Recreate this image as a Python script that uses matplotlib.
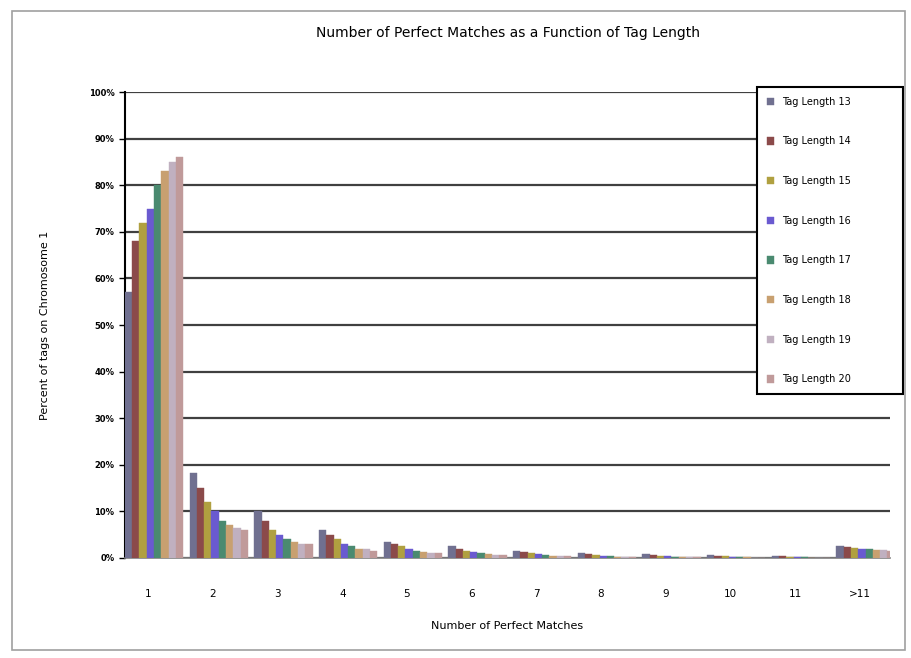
import matplotlib
matplotlib.use("Agg")
import matplotlib.pyplot as plt
import numpy as np
from matplotlib.patches import Rectangle

# categories along x
categories = ["1", "2", "3", "4", "5", "6", "7", "8", "9", "10", "11", ">11"]

# percent of tags per number of perfect matches, one list per tag length
tag13 = [57.0, 18.2, 10.0, 6.0, 3.5, 2.5, 1.5, 1.0, 0.8, 0.6, 0.5, 2.5]
tag14 = [68.0, 15.0, 8.0, 5.0, 3.0, 2.0, 1.2, 0.8, 0.6, 0.5, 0.4, 2.3]
tag15 = [72.0, 12.0, 6.0, 4.0, 2.5, 1.5, 1.0, 0.6, 0.5, 0.4, 0.3, 2.2]
tag16 = [75.0, 10.0, 5.0, 3.0, 2.0, 1.2, 0.8, 0.5, 0.4, 0.3, 0.2, 2.0]
tag17 = [80.0, 8.0, 4.0, 2.5, 1.5, 1.0, 0.6, 0.4, 0.3, 0.2, 0.2, 1.9]
tag18 = [83.0, 7.0, 3.5, 2.0, 1.2, 0.8, 0.5, 0.3, 0.2, 0.2, 0.1, 1.8]
tag19 = [85.0, 6.5, 3.0, 2.0, 1.0, 0.7, 0.4, 0.3, 0.2, 0.1, 0.1, 1.7]
tag20 = [86.0, 6.0, 3.0, 1.5, 1.0, 0.6, 0.4, 0.2, 0.2, 0.1, 0.1, 1.6]

series = [tag13, tag14, tag15, tag16, tag17, tag18, tag19, tag20]
labels = ["Tag Length 13", "Tag Length 14", "Tag Length 15", "Tag Length 16",
          "Tag Length 17", "Tag Length 18", "Tag Length 19", "Tag Length 20"]
colors = ["#707090", "#8b4a4a", "#b0a040", "#6a5ad0",
          "#4a8a70", "#c8a070", "#c0b0c0", "#c09a9a"]

fig = plt.figure(figsize=(9.12, 6.58), dpi=100)
ax = fig.add_axes([0.137, 0.152, 0.839, 0.708])

# outer chart border
fig.patches.append(Rectangle((0.013, 0.012), 0.979, 0.972, transform=fig.transFigure,
                             fill=False, edgecolor="#a0a0a0", linewidth=1.2))

x = np.arange(len(categories))
n = len(series)
group = 0.9
w = group / n
for i, (vals, lab, c) in enumerate(zip(series, labels, colors)):
    ax.bar(x - group / 2 + w * (i + 0.5) + 0.09, vals, width=w, color=c,
           edgecolor=c, linewidth=0.3, label=lab, zorder=3)

ax.set_ylim(0, 100)
ax.set_xlim(-0.36, 11.47)
ax.set_yticks(np.arange(0, 101, 10))
ax.set_yticklabels([f"{v}%" for v in range(0, 101, 10)], fontsize=6, fontweight="bold")
ax.set_xticks(x)
ax.set_xticklabels(categories, fontsize=7.5)
ax.tick_params(axis="x", length=0, pad=22)
ax.tick_params(axis="y", length=4, width=1)
ax.yaxis.grid(True, color="#404040", linewidth=1.6, zorder=0)
ax.set_axisbelow(True)
for s in ["top", "right"]:
    ax.spines[s].set_visible(False)
ax.spines["left"].set_linewidth(1.5)
ax.spines["bottom"].set_linewidth(1.2)
ax.spines["bottom"].set_color("#808080")

ax.set_title("Number of Perfect Matches as a Function of Tag Length", fontsize=10, pad=40)
ax.set_xlabel("Number of Perfect Matches", fontsize=8, labelpad=16)
ax.set_ylabel("Percent of tags on Chromosome 1", fontsize=8, labelpad=28)

leg = ax.legend(loc="upper left", bbox_to_anchor=(0.8246, 0.395, 0.171, 0.48),
                bbox_transform=fig.transFigure, mode="expand", fontsize=7,
                labelspacing=3.05, borderpad=1.0, handlelength=0.8, handleheight=0.8,
                fancybox=False, framealpha=1)
leg.get_frame().set_edgecolor("black")
leg.get_frame().set_linewidth(1.5)

plt.savefig("out.png", dpi=100)
